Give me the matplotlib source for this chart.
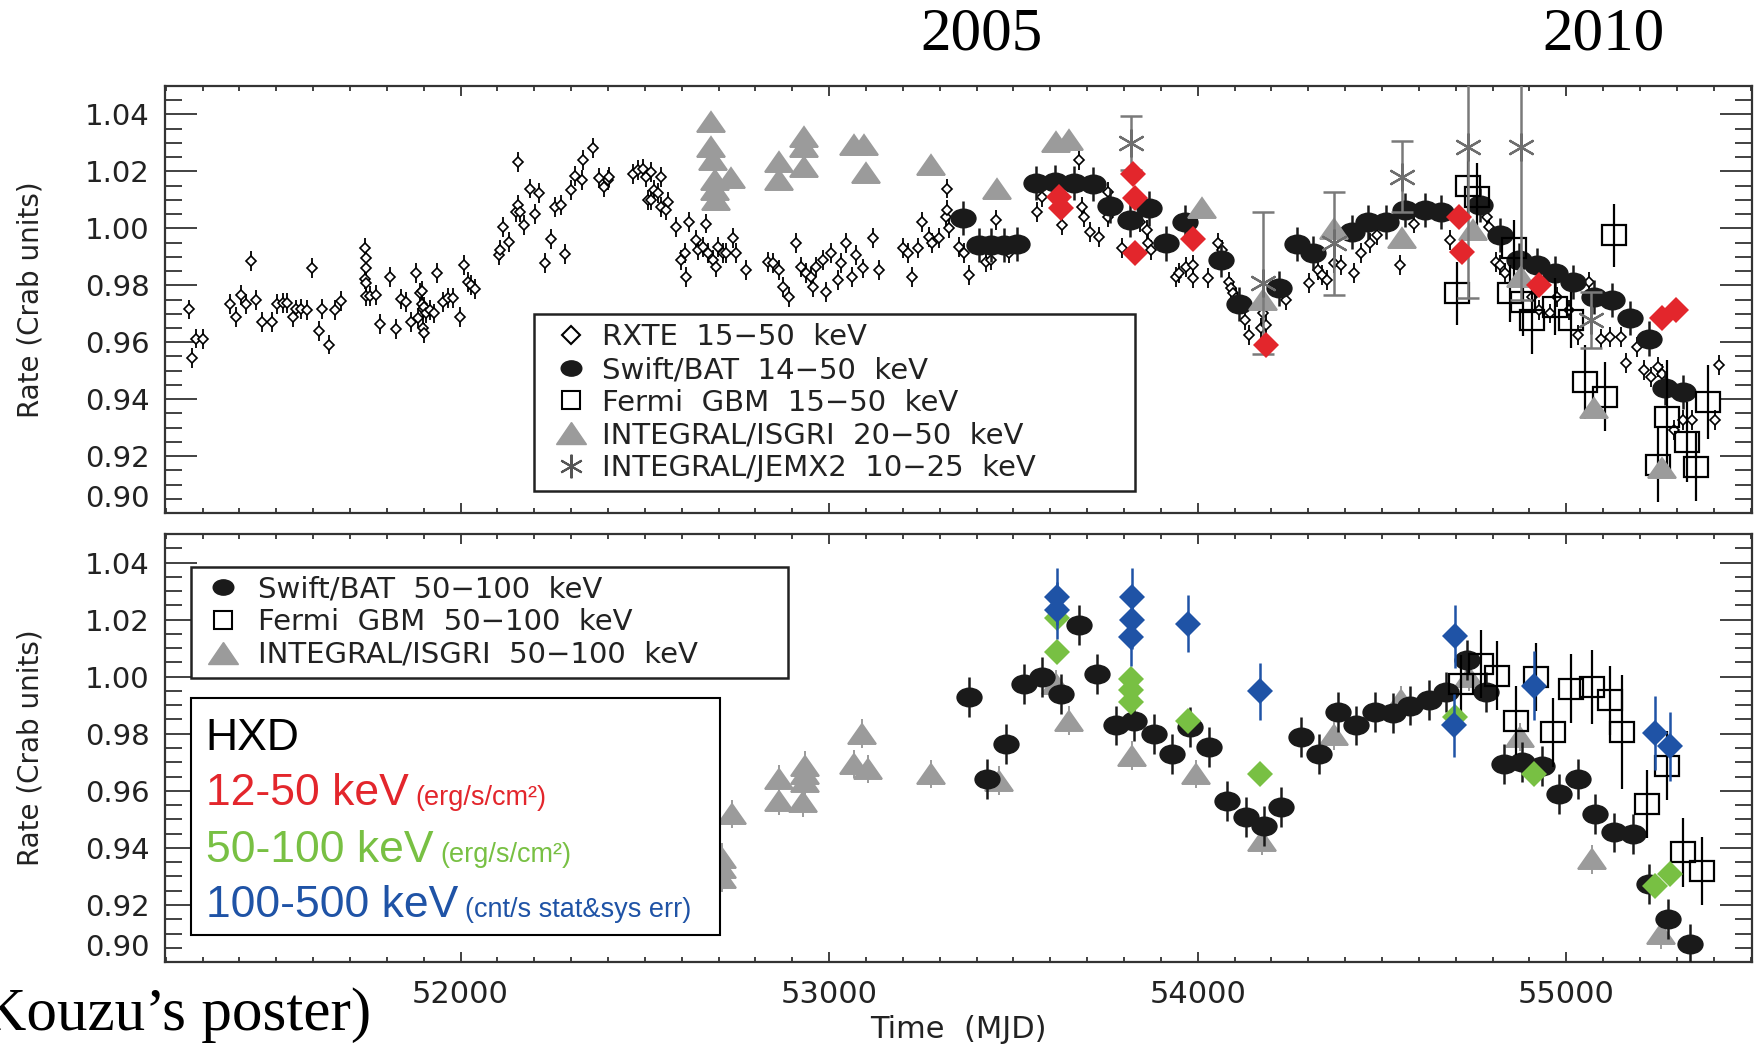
"""
Crab nebula hard X-ray light curve, 2000-2010.

Two stacked panels share the MJD axis:
  top    - 10-50 keV rates from RXTE, Swift/BAT, Fermi GBM, INTEGRAL (ISGRI, JEM-X2)
           with the Suzaku HXD 12-50 keV points on top
  bottom - 50-100 keV rates from Swift/BAT, Fermi GBM, INTEGRAL/ISGRI
           with the HXD 50-100 and 100-500 keV points
All rates are normalised to the Crab mean (Crab units).
"""

import matplotlib
matplotlib.use("Agg")
import matplotlib.pyplot as plt
from matplotlib.lines import Line2D
from matplotlib.markers import MarkerStyle
from matplotlib.patches import Rectangle
from matplotlib.ticker import FixedLocator, MultipleLocator, FormatStrFormatter
from matplotlib.transforms import Affine2D

# ---------------------------------------------------------------------------
# Data: 15-50 keV band (top panel)
# ---------------------------------------------------------------------------
RXTE_MJD = [
    51264, 51270, 51283, 51300, 51374, 51390, 51403, 51417, 51431, 51444,
    51462, 51489, 51502, 51517, 51529, 51544, 51554, 51568, 51582, 51598,
    51616, 51625, 51643, 51658, 51676, 51740, 51742, 51742, 51740, 51742,
    51742, 51753, 51771, 51782, 51809, 51824, 51839, 51853, 51866, 51880,
    51884, 51891, 51896, 51896, 51898, 51902, 51898, 51900, 51907, 51916,
    51929, 51936, 51952, 51965, 51979, 51997, 52008, 52020, 52029, 52040,
    52104, 52107, 52116, 52131, 52149, 52155, 52155, 52162, 52173, 52187,
    52203, 52214, 52230, 52246, 52257, 52273, 52284, 52300, 52311, 52333,
    52330, 52358, 52375, 52390, 52399, 52402, 52467, 52480, 52494, 52503,
    52508, 52517, 52526, 52535, 52544, 52517, 52544, 52558, 52562, 52585,
    52598, 52610, 52612, 52621, 52639, 52643, 52657, 52666, 52671, 52684,
    52693, 52698, 52711, 52720, 52738, 52747, 52774, 52833, 52847, 52865,
    52874, 52892, 52910, 52924, 52937, 52951, 52955, 52964, 52982, 52991,
    53005, 53023, 53032, 53045, 53062, 53073, 53091, 53120, 53136, 53199,
    53213, 53226, 53240, 53251, 53271, 53280, 53298, 53316, 53321, 53321,
    53325, 53353, 53366, 53380, 53425, 53438, 53452, 53488, 53565, 53578,
    53633, 53678, 53687, 53691, 53709, 53732, 53757, 53757, 53794, 53843,
    53862, 53866, 53874, 53942, 53949, 53967, 53986, 53986, 54029, 54054,
    54066, 54085, 54091, 54097, 54103, 54128, 54140, 54171, 54178, 54184,
    54239, 54301, 54326, 54338, 54351, 54369, 54388, 54425, 54444, 54468,
    54487, 54549, 54586, 54685, 54784, 54790, 54809, 54821, 54833, 54908,
    54926, 54957, 54976, 55007, 55031, 55062, 55093, 55118, 55149, 55161,
    55192, 55211, 55229, 55248, 55260, 55273, 55291, 55316, 55341, 55403,
    55415,
]
RXTE_RATE = [
    0.9715, 0.9543, 0.9613, 0.9610, 0.9734, 0.9687, 0.9766, 0.9734, 0.9885, 0.9748,
    0.9670, 0.9670, 0.9734, 0.9739, 0.9739, 0.9690, 0.9715, 0.9718, 0.9713, 0.9862,
    0.9640, 0.9718, 0.9592, 0.9713, 0.9746, 0.9930, 0.9895, 0.9859, 0.9821, 0.9807,
    0.9762, 0.9762, 0.9766, 0.9663, 0.9828, 0.9647, 0.9753, 0.9742, 0.9670, 0.9844,
    0.9686, 0.9772, 0.9781, 0.9736, 0.9718, 0.9725, 0.9649, 0.9633, 0.9701, 0.9713,
    0.9701, 0.9844, 0.9742, 0.9754, 0.9754, 0.9690, 0.9870, 0.9813, 0.9801, 0.9787,
    0.9906, 0.9924, 1.0006, 0.9953, 1.0058, 1.0082, 1.0234, 1.0056, 1.0012, 1.0140,
    1.0050, 1.0123, 0.9877, 0.9961, 1.0074, 1.0082, 0.9910, 1.0135, 1.0184, 1.0240,
    1.0170, 1.0281, 1.0176, 1.0146, 1.0170, 1.0181, 1.0191, 1.0205, 1.0207, 1.0181,
    1.0100, 1.0199, 1.0135, 1.0123, 1.0181, 1.0099, 1.0076, 1.0064, 1.0094, 1.0006,
    0.9889, 0.9912, 0.9830, 1.0023, 0.9959, 0.9924, 0.9935, 1.0017, 0.9912, 0.9889,
    0.9865, 0.9935, 0.9912, 0.9912, 0.9965, 0.9912, 0.9854, 0.9883, 0.9877, 0.9854,
    0.9795, 0.9760, 0.9947, 0.9865, 0.9842, 0.9830, 0.9795, 0.9865, 0.9889, 0.9777,
    0.9912, 0.9818, 0.9877, 0.9947, 0.9830, 0.9906, 0.9859, 0.9965, 0.9854, 0.9930,
    0.9912, 0.9830, 0.9930, 1.0023, 0.9971, 0.9947, 0.9965, 1.0041, 1.0140, 1.0064,
    1.0000, 0.9935, 0.9912, 0.9836, 0.9883, 0.9889, 1.0029, 0.9912, 1.0058, 1.0111,
    1.0012, 1.0240, 1.0076, 1.0041, 0.9988, 0.9971, 1.0129, 1.0041, 0.9930, 1.0023,
    0.9994, 0.9947, 0.9924, 0.9830, 0.9842, 0.9865, 0.9824, 0.9871, 0.9824, 0.9947,
    0.9924, 0.9813, 0.9789, 0.9772, 0.9754, 0.9678, 0.9625, 0.9649, 0.9701, 0.9660,
    0.9748, 0.9807, 0.9854, 0.9836, 0.9818, 0.9877, 0.9871, 0.9842, 0.9912, 0.9947,
    0.9976, 0.9871, 1.0017, 0.9959, 1.0041, 1.0006, 0.9883, 0.9871, 0.9842, 0.9760,
    0.9713, 0.9701, 0.9760, 0.9713, 0.9625, 0.9813, 0.9613, 0.9619, 0.9619, 0.9526,
    0.9584, 0.9502, 0.9479, 0.9514, 0.9490, 0.9432, 0.9291, 0.9327, 0.9327, 0.9327,
    0.9520,
]
RXTE_ERR = 0.0035

BAT_LO_MJD = [
    53362, 53407, 53440, 53475, 53510, 53562, 53612, 53665, 53715, 53763,
    53816, 53868, 53915, 53965, 54064, 54113, 54221, 54270, 54314, 54419,
    54462, 54512, 54561, 54617, 54660, 54765, 54821, 54871, 54920, 54970,
    55019, 55075, 55124, 55174, 55223, 55267, 55316,
]
BAT_LO_RATE = [
    1.0035, 0.9941, 0.9941, 0.9941, 0.9945, 1.0158, 1.0164, 1.0160, 1.0155, 1.0078,
    1.0029, 1.0070, 0.9947, 1.0023, 0.9889, 0.9734, 0.9789, 0.9945, 0.9912, 0.9988,
    1.0023, 1.0023, 1.0064, 1.0064, 1.0058, 1.0082, 0.9976, 0.9889, 0.9871, 0.9842,
    0.9813, 0.9760, 0.9748, 0.9684, 0.9613, 0.9438, 0.9426,
]
BAT_LO_ERR = 0.006

GBM_LO_MJD = [
    54703, 54734, 54759, 54846, 54858, 54883, 54908, 54970, 55013, 55050,
    55106, 55130, 55248, 55273, 55328, 55353, 55384,
]
GBM_LO_RATE = [
    0.9772, 1.0149, 1.0109, 0.9772, 0.9930, 0.9742, 0.9678, 0.9725, 0.9678, 0.9461,
    0.9409, 0.9976, 0.9169, 0.9338, 0.9250, 0.9163, 0.9391,
]
GBM_LO_ERR = [
    0.011, 0.012, 0.012, 0.010, 0.010, 0.012, 0.012, 0.010, 0.010, 0.013,
    0.012, 0.011, 0.013, 0.020, 0.014, 0.012, 0.013,
]

ISGRI_LO_MJD = [
    52680, 52680, 52684, 52689, 52689, 52693, 52734, 52865, 52865, 52933,
    52933, 52933, 53068, 53095, 53100, 53276, 53456, 53615, 53651, 54011,
    54178, 54369, 54555, 54747, 54877, 55075, 55260,
]
ISGRI_LO_RATE = [
    1.0375, 1.0287, 1.0240, 1.0170, 1.0135, 1.0100, 1.0176, 1.0234, 1.0170, 1.0322,
    1.0287, 1.0217, 1.0293, 1.0293, 1.0193, 1.0222, 1.0140, 1.0304, 1.0310, 1.0070,
    0.9748, 0.9999, 0.9965, 0.9994, 0.9830, 0.9368, 0.9157,
]

JEMX_MJD = [53819, 54178, 54369, 54555, 54734, 54877, 55068]
JEMX_RATE = [1.0299, 0.9807, 0.9947, 1.0181, 1.0287, 1.0287, 0.9678]
JEMX_ERR = [0.0095, 0.025, 0.018, 0.0125, 0.053, 0.054, 0.010]

HXD_LO_MJD = [53624, 53628, 53825, 53831, 53831, 53986, 54184, 54710, 54716, 54926, 55260, 55297]
HXD_LO_RATE = [1.0111, 1.0070, 1.0191, 1.0105, 0.9912, 0.9961, 0.9590, 1.0041, 0.9918, 0.9801, 0.9684, 0.9713]

# ---------------------------------------------------------------------------
# Data: 50-100 keV band (bottom panel)
# ---------------------------------------------------------------------------
BAT_HI_MJD = [
    53380, 53429, 53479, 53529, 53578, 53628, 53678, 53727, 53777, 53827,
    53881, 53931, 53978, 54031, 54079, 54130, 54180, 54227, 54280, 54328,
    54381, 54429, 54480, 54530, 54577, 54628, 54673, 54731, 54781, 54830,
    54880, 54933, 54980, 55031, 55079, 55129, 55182, 55224, 55277, 55335,
]
BAT_HI_RATE = [
    0.9928, 0.9641, 0.9764, 0.9975, 0.9999, 0.9940, 1.0180, 1.0010, 0.9829, 0.9846,
    0.9800, 0.9729, 0.9823, 0.9753, 0.9565, 0.9507, 0.9478, 0.9544, 0.9788, 0.9729,
    0.9876, 0.9829, 0.9876, 0.9872, 0.9899, 0.9917, 0.9946, 1.0057, 0.9946, 0.9694,
    0.9700, 0.9688, 0.9589, 0.9642, 0.9519, 0.9454, 0.9448, 0.9273, 0.9150, 0.9062,
]
BAT_HI_ERR = 0.007

GBM_HI_MJD = [
    54715, 54768, 54811, 54864, 54917, 54964, 55012, 55070, 55118, 55150,
    55219, 55272, 55317, 55367,
]
GBM_HI_RATE = [
    0.9975, 1.0045, 1.0004, 0.9846, 0.9999, 0.9805, 0.9958, 0.9964, 0.9917, 0.9805,
    0.9554, 0.9688, 0.9384, 0.9319,
]
GBM_HI_ERR = [
    0.010, 0.012, 0.012, 0.012, 0.012, 0.012, 0.012, 0.013, 0.012, 0.020,
    0.012, 0.012, 0.012, 0.012,
]

ISGRI_HI_MJD = [
    52709, 52709, 52709, 52735, 52865, 52865, 52928, 52935, 52935, 52935,
    53068, 53089, 53104, 53276, 53461, 53615, 53651, 53822, 53994, 54174,
    54371, 54551, 54736, 54874, 55070, 55256,
]
ISGRI_HI_RATE = [
    0.9366, 0.9331, 0.9296, 0.9519, 0.9641, 0.9565, 0.9560, 0.9688, 0.9659, 0.9630,
    0.9694, 0.9800, 0.9677, 0.9659, 0.9636, 0.9975, 0.9846, 0.9723, 0.9659, 0.9425,
    0.9794, 0.9917, 0.9999, 0.9788, 0.9360, 0.9097,
]
ISGRI_HI_ERR = 0.005

HXD_MID_MJD = [53619, 53619, 53818, 53818, 53818, 53973, 54169, 54699, 54911, 55240, 55282]
HXD_MID_RATE = [1.0204, 1.0086, 0.9993, 0.9952, 0.9911, 0.9846, 0.9659, 0.9858, 0.9659, 0.9267, 0.9308]

HXD_HI_MJD = [53619, 53619, 53822, 53822, 53820, 53974, 54169, 54699, 54694, 54911, 55240, 55282]
HXD_HI_RATE = [1.0280, 1.0233, 1.0280, 1.0198, 1.0139, 1.0186, 0.9949, 1.0141, 0.9829, 0.9969, 0.9802, 0.9756]
HXD_HI_ERR = [0.010, 0.010, 0.010, 0.010, 0.010, 0.010, 0.010, 0.011, 0.011, 0.012, 0.013, 0.012]

# ---------------------------------------------------------------------------
# Axis setup
# ---------------------------------------------------------------------------
XLIM = (51198, 55504)
YLIM = (0.90, 1.05)
Y_TICKS = [0.90, 0.92, 0.94, 0.96, 0.98, 1.00, 1.02, 1.04]

INK = "#222222"
GRAY = "#9b9b9b"
STAR_GRAY = "#6e6e6e"
HXD_RED = "#e3262c"
HXD_GREEN = "#78c043"
HXD_BLUE = "#1f53a6"

# IDL-style symbols: slightly wide circles and triangles
ELLIPSE = MarkerStyle("o", transform=Affine2D().scale(1.35, 1.0))
WIDE_TRI = MarkerStyle("^", transform=Affine2D().scale(1.35, 1.0))
WIDE_SQ = MarkerStyle("s", transform=Affine2D().scale(1.15, 1.0))
ASTERISK = (6, 2, 0)

plt.rcParams["font.family"] = "DejaVu Sans"


def style_axis(ax, show_xlabels):
    ax.set_xlim(XLIM)
    ax.set_ylim(YLIM)
    ax.xaxis.set_major_locator(MultipleLocator(1000))
    ax.xaxis.set_minor_locator(MultipleLocator(100))
    ax.xaxis.set_major_formatter(FormatStrFormatter("%d"))
    ax.yaxis.set_major_locator(FixedLocator(Y_TICKS))
    ax.yaxis.set_minor_locator(MultipleLocator(0.005))
    ax.yaxis.set_major_formatter(FormatStrFormatter("%.2f"))

    ax.tick_params(which="both", direction="in", top=True, right=True,
                   color="#333333", labelcolor=INK, width=1.3)
    ax.tick_params(axis="y", which="major", length=23, pad=11, labelsize=21)
    ax.tick_params(axis="y", which="minor", length=12)
    ax.tick_params(axis="x", which="major", length=7, pad=13, labelsize=22,
                   labelbottom=show_xlabels)
    ax.tick_params(axis="x", which="minor", length=3.5)
    for spine in ax.spines.values():
        spine.set_linewidth(1.6)
        spine.set_color("#333333")

    ax.set_ylabel("Rate (Crab units)", fontsize=20, color=INK)
    ax.yaxis.set_label_coords(-0.076, 0.5)

    # the lowest label sits above its tick so it clears the frame corner
    ax.yaxis.get_major_ticks()[0].label1.set_verticalalignment("bottom")


def points(ax, x, y, err, marker, ms, color, face, ecolor=None, elw=1.6,
           capsize=0, mew=1.4, z=3):
    if err is not None:
        ax.errorbar(x, y, yerr=err, fmt="none", ecolor=ecolor or color,
                    elinewidth=elw, capsize=capsize, capthick=elw, zorder=z)
    ax.plot(x, y, ls="none", marker=marker, ms=ms, mec=color, mfc=face,
            mew=mew, zorder=z + 0.1)


fig = plt.figure(figsize=(17.63, 10.44), dpi=100)
ax_top = fig.add_axes([0.0936, 0.5086, 0.9002, 0.4090])
ax_bot = fig.add_axes([0.0936, 0.0785, 0.9002, 0.4100])

# ---------------------------------------------------------------------------
# Top panel
# ---------------------------------------------------------------------------
points(ax_top, RXTE_MJD, RXTE_RATE, RXTE_ERR, "D", 5.6, "black", "white",
       elw=1.3, mew=1.2, z=2)
points(ax_top, BAT_LO_MJD, BAT_LO_RATE, BAT_LO_ERR, ELLIPSE, 13, "#1a1a1a", "#1a1a1a",
       elw=1.8, z=3)
points(ax_top, GBM_LO_MJD, GBM_LO_RATE, GBM_LO_ERR, WIDE_SQ, 15, "black", "none",
       elw=1.6, mew=1.6, z=4)
points(ax_top, ISGRI_LO_MJD, ISGRI_LO_RATE, None, WIDE_TRI, 15, GRAY, GRAY, z=5)
points(ax_top, JEMX_MJD, JEMX_RATE, JEMX_ERR, ASTERISK, 20, STAR_GRAY, STAR_GRAY,
       ecolor="#7a7a7a", elw=1.8, capsize=8, mew=1.6, z=6)
points(ax_top, HXD_LO_MJD, HXD_LO_RATE, None, "D", 13, HXD_RED, HXD_RED, mew=0, z=8)

style_axis(ax_top, show_xlabels=False)

top_handles = [
    Line2D([], [], ls="none", marker="D", ms=9, mfc="white", mec="black", mew=1.5),
    Line2D([], [], ls="none", marker=ELLIPSE, ms=11, color="#1a1a1a"),
    Line2D([], [], ls="none", marker="s", ms=13, mfc="white", mec="black", mew=1.5),
    Line2D([], [], ls="none", marker=WIDE_TRI, ms=16, color=GRAY),
    Line2D([], [], ls="none", marker=ASTERISK, ms=17, mec="#555555", mew=1.5),
]
top_labels = [
    "RXTE  15\u221250  keV",
    "Swift/BAT  14\u221250  keV",
    "Fermi  GBM  15\u221250  keV",
    "INTEGRAL/ISGRI  20\u221250  keV",
    "INTEGRAL/JEMX2  10\u221225  keV",
]
leg = ax_top.legend(top_handles, top_labels, loc="upper left",
                    bbox_to_anchor=(0.2325, 0.0468, 0.3787, 0.4192), mode="expand",
                    borderaxespad=0, fontsize=21, handlelength=1.9, handletextpad=0.1,
                    labelspacing=0.16, borderpad=0.32, fancybox=False,
                    edgecolor="#222222", framealpha=1, labelcolor=INK)
leg.get_frame().set_linewidth(1.8)

# ---------------------------------------------------------------------------
# Bottom panel
# ---------------------------------------------------------------------------
points(ax_bot, ISGRI_HI_MJD, ISGRI_HI_RATE, ISGRI_HI_ERR, WIDE_TRI, 15, GRAY, GRAY,
       elw=1.4, z=2)
points(ax_bot, BAT_HI_MJD, BAT_HI_RATE, BAT_HI_ERR, ELLIPSE, 13, "#1a1a1a", "#1a1a1a",
       elw=1.8, z=3)
points(ax_bot, GBM_HI_MJD, GBM_HI_RATE, GBM_HI_ERR, WIDE_SQ, 15, "black", "none",
       elw=1.6, mew=1.6, z=4)
points(ax_bot, HXD_MID_MJD, HXD_MID_RATE, None, "D", 13, HXD_GREEN, HXD_GREEN,
       mew=0, z=7)
points(ax_bot, HXD_HI_MJD, HXD_HI_RATE, HXD_HI_ERR, "D", 13, HXD_BLUE, HXD_BLUE,
       elw=1.8, mew=0, z=8)

style_axis(ax_bot, show_xlabels=True)
ax_bot.set_xlabel("Time  (MJD)", fontsize=22, color=INK, labelpad=4)

bot_handles = [
    Line2D([], [], ls="none", marker=ELLIPSE, ms=11, color="#1a1a1a"),
    Line2D([], [], ls="none", marker="s", ms=13, mfc="white", mec="black", mew=1.5),
    Line2D([], [], ls="none", marker=WIDE_TRI, ms=16, color=GRAY),
]
bot_labels = [
    "Swift/BAT  50\u2212100  keV",
    "Fermi  GBM  50\u2212100  keV",
    "INTEGRAL/ISGRI  50\u2212100  keV",
]
leg2 = ax_bot.legend(bot_handles, bot_labels, loc="upper left",
                     bbox_to_anchor=(0.0166, 0.659, 0.3760, 0.2646), mode="expand",
                     borderaxespad=0, fontsize=21, handlelength=1.6, handletextpad=0.4,
                     labelspacing=0.16, borderpad=0.3, fancybox=False,
                     edgecolor="#222222", framealpha=1, labelcolor=INK)
leg2.get_frame().set_linewidth(1.8)

# HXD key box
ax_bot.add_patch(Rectangle((0.0166, 0.0631), 0.3331, 0.5537, transform=ax_bot.transAxes,
                           facecolor="white", edgecolor="black", lw=1.5, zorder=9))
hxd_rows = [
    ("HXD", "", "black", 0.4953),
    ("12-50 keV", "(erg/s/cm\u00b2)", HXD_RED, 0.3668),
    ("50-100 keV", "(erg/s/cm\u00b2)", HXD_GREEN, 0.2336),
    ("100-500 keV", "(cnt/s stat&sys err)", HXD_BLUE, 0.1051),
]
for main, note, color, ypos in hxd_rows:
    t = ax_bot.text(0.0256, ypos, main, transform=ax_bot.transAxes, fontsize=32,
                    family="Liberation Sans", color=color, va="baseline", zorder=10)
    if note:
        ax_bot.annotate(note, xy=(1, 0), xycoords=t, xytext=(5, 2),
                        textcoords="offset points", fontsize=19.5,
                        family="Liberation Sans", color=color, va="bottom", zorder=10)

# year markers and source note
fig.text(0.5567, 0.9665, "2005", fontsize=44, family="Liberation Serif",
         ha="center", va="center")
fig.text(0.9093, 0.9665, "2010", fontsize=44, family="Liberation Serif",
         ha="center", va="center")
fig.text(0.2104, 0.0278, "(Kouzu\u2019s poster)", fontsize=44, family="Liberation Serif",
         ha="right", va="center")

fig.savefig("out.png", dpi=100)
